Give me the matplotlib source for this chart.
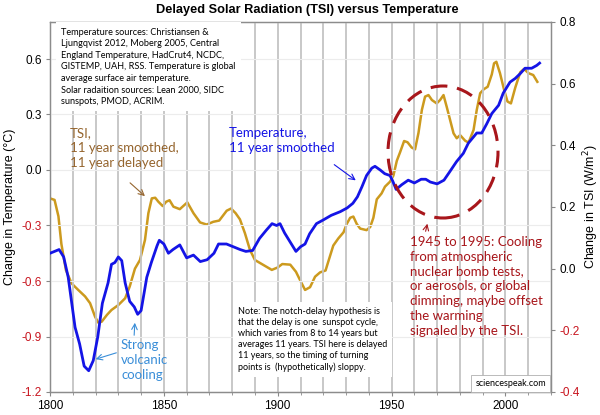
import matplotlib
matplotlib.use("Agg")
import matplotlib.pyplot as plt
from matplotlib.patches import Ellipse

# temperature anomaly, 11 year smoothed (left axis, degC)
temp_years = [1800, 1802, 1804, 1806, 1808, 1811, 1813, 1815, 1817, 1819,
              1821, 1823, 1825.5, 1827, 1828.5, 1830, 1831.5, 1833, 1835, 1837,
              1838.5, 1840, 1842.5, 1844.5, 1847, 1848, 1850, 1852, 1854, 1857,
              1860, 1863, 1866, 1869, 1872, 1874, 1877.5, 1880.5, 1883.5, 1886,
              1889, 1892, 1895, 1897.5, 1899.5, 1901, 1903, 1905.5, 1908, 1910,
              1912, 1914, 1917, 1920, 1923.5, 1927.5, 1930.5, 1933, 1935, 1937,
              1939, 1941.3, 1942.7, 1945, 1947, 1949.3, 1950.5, 1952, 1954.4, 1957.3,
              1960, 1963, 1965, 1967, 1970, 1973, 1975.5, 1978.5, 1981.5, 1983.7,
              1987.4, 1989.6, 1991.8, 1994, 1997, 1999, 2002, 2004.3, 2006.4, 2008.6,
              2011.5, 2013.7, 2015]
temp_vals = [-0.45, -0.44, -0.43, -0.47, -0.58, -0.85, -0.94, -1.06, -1.085, -1.03,
             -0.90, -0.72, -0.61, -0.51, -0.50, -0.47, -0.49, -0.61, -0.71, -0.74,
             -0.78, -0.76, -0.58, -0.50, -0.41, -0.38, -0.40, -0.45, -0.43, -0.405,
             -0.475, -0.46, -0.495, -0.485, -0.45, -0.40, -0.40, -0.415, -0.43, -0.44,
             -0.435, -0.37, -0.325, -0.29, -0.30, -0.29, -0.34, -0.39, -0.44, -0.415,
             -0.40, -0.345, -0.29, -0.27, -0.245, -0.225, -0.205, -0.18, -0.145, -0.09,
             -0.03, 0.01, 0.02, 0.0, -0.02, -0.03, -0.06, -0.105, -0.08, -0.055,
             -0.07, -0.05, -0.05, -0.065, -0.075, -0.055, -0.01, 0.045, 0.09, 0.145,
             0.20, 0.20, 0.25, 0.305, 0.35, 0.415, 0.475, 0.495, 0.52, 0.55,
             0.55, 0.565, 0.578]

# TSI, 11 year smoothed and 11 year delayed (right axis, W/m2)
tsi_years = [1800, 1802, 1803.7, 1805, 1807, 1809.5, 1812.4, 1815.4, 1817.6, 1819.8,
             1821.2, 1822.7, 1825, 1827, 1830, 1833, 1835, 1837.3, 1839.5, 1841.7,
             1843.2, 1844.7, 1846.2, 1847.6, 1849.5, 1851, 1852.5, 1854.2, 1857, 1860.3,
             1863, 1865.9, 1868.8, 1871.7, 1874.3, 1877.6, 1879.5, 1881.5, 1883.4, 1885.6,
             1887.8, 1890, 1893.7, 1897.4, 1900, 1902, 1905.5, 1908, 1909.8, 1912,
             1914.2, 1916.4, 1918.6, 1921, 1922.5, 1924.4, 1926.6, 1928.9, 1930.3, 1931.8,
             1933.2, 1934.7, 1936.2, 1939, 1940.6, 1942, 1943.5, 1945.6, 1947.1, 1949.3,
             1950.8, 1952.3, 1953.7, 1955.5, 1957, 1958.8, 1960.3, 1961.8, 1963.3, 1964.7,
             1966.2, 1967.7, 1969.8, 1971.3, 1972.8, 1974.2, 1975.7, 1977.2, 1978.6, 1980.1,
             1982.3, 1983.8, 1986, 1987.4, 1988.9, 1990.5, 1992.2, 1994, 1995, 1996,
             1997.6, 1999.4, 2000.9, 2002.4, 2004.3, 2006.5, 2008.2, 2010.1, 2012.2, 2014]
tsi_vals = [0.228, 0.223, 0.17, 0.08, -0.005, -0.048, -0.069, -0.09, -0.112, -0.156,
            -0.175, -0.172, -0.15, -0.134, -0.118, -0.096, -0.058, 0.0, 0.028, 0.093,
            0.18, 0.228, 0.23, 0.217, 0.203, 0.217, 0.222, 0.201, 0.193, 0.215,
            0.18, 0.15, 0.143, 0.152, 0.156, 0.188, 0.195, 0.18, 0.16, 0.115,
            0.061, 0.028, 0.012, -0.004, 0.004, 0.015, 0.013, -0.01, -0.037, -0.069,
            -0.06, -0.026, -0.012, -0.006, 0.03, 0.075, 0.098, 0.118, 0.145, 0.165,
            0.169, 0.145, 0.13, 0.125, 0.135, 0.165, 0.225, 0.244, 0.266, 0.282,
            0.302, 0.35, 0.377, 0.414, 0.41, 0.393, 0.387, 0.44, 0.515, 0.558,
            0.563, 0.547, 0.536, 0.547, 0.563, 0.525, 0.482, 0.439, 0.423, 0.433,
            0.415, 0.409, 0.45, 0.515, 0.569, 0.582, 0.59, 0.63, 0.666, 0.671,
            0.634, 0.58, 0.542, 0.536, 0.587, 0.637, 0.648, 0.634, 0.628, 0.606]

temp_ticks = [-1.2, -0.9, -0.6, -0.3, 0.0, 0.3, 0.6]
tsi_ticks = [-0.4, -0.2, 0.0, 0.2, 0.4, 0.6, 0.8]
year_ticks = [1800, 1850, 1900, 1950, 2000]

BLUE = "#1414E6"
GOLD = "#CC9A1E"
BROWN = "#95652E"
DARKRED = "#A8161B"
LIGHTBLUE = "#3A8ED8"
NEG = "#C8141E"
TXT = "Lato"
AX = "Liberation Sans"
BIG = 9.5

fig = plt.figure(figsize=(6, 4.15), dpi=100)
ax = fig.add_axes([50 / 600, 1 - 392 / 415, 501 / 600, 370 / 415])
ax2 = ax.twinx()

ax.set_xlim(1800, 2020)
ax.set_ylim(-1.2, 0.8)
ax2.set_ylim(-0.4, 0.8)

# grid: grey decade lines, faint horizontal lines
for yr in range(1810, 2020, 10):
    ax.axvline(yr, color="#c4c4c4", lw=1.3, zorder=0)
for t in temp_ticks[1:]:
    ax.axhline(t, color="#ececec", lw=0.8, zorder=0)

ax2.plot(tsi_years, tsi_vals, color=GOLD, lw=1.8, zorder=3)
ax.plot(temp_years, temp_vals, color=BLUE, lw=2.0, zorder=4)
ax.set_zorder(ax2.get_zorder() + 1)
ax.patch.set_visible(False)
ax2.patch.set_facecolor("white")

# ticks and labels
ax.set_xticks(year_ticks)
ax.set_xticks(range(1800, 2021, 10), minor=True)
ax.set_xticklabels([str(y) for y in year_ticks], fontfamily=AX, fontsize=8.5)
ax.set_yticks(temp_ticks)
ax.set_yticklabels([f"{t:.1f}" for t in temp_ticks], fontfamily=AX, fontsize=8.5)
for lab, t in zip(ax.get_yticklabels(), temp_ticks):
    lab.set_color(NEG if t < 0 else "black")
ax2.set_yticks(tsi_ticks)
ax2.set_yticklabels([f"{t:.1f}" for t in tsi_ticks], fontfamily=AX, fontsize=8.5)
for lab, t in zip(ax2.get_yticklabels(), tsi_ticks):
    lab.set_color(NEG if t < 0 else "black")
ax.tick_params(axis="both", which="major", length=3, width=0.8, color="#888888", pad=3)
ax.tick_params(axis="x", which="minor", length=2, color="#888888")
ax2.tick_params(axis="y", length=3, width=0.8, color="#888888", pad=3)
for a in (ax, ax2):
    for s in a.spines.values():
        s.set_color("#8c8c8c")
        s.set_linewidth(0.9)

ax.set_ylabel("Change in Temperature (\u00b0C)", fontfamily=AX, fontsize=9, labelpad=4)
ax2.set_ylabel("Change in TSI (W/m$^2$)", fontfamily=AX, fontsize=9, labelpad=1)
fig.text(0.513, 0.976, "Delayed Solar Radiation (TSI) versus Temperature",
         ha="center", va="center", fontfamily=AX, fontweight="bold", fontsize=9.2)

# annotations (placed in axes fraction)
def fx(px):
    return (px - 50) / 501


def fy(py):
    return (392 - py) / 370


sources = ("Temperature sources: Christiansen &\n"
           "Ljungqvist 2012, Moberg 2005, Central\n"
           "England Temperature, HadCrut4, NCDC,\n"
           "GISTEMP, UAH, RSS. Temperature is global\n"
           "average surface air temperature.\n"
           "Solar radaition sources: Lean 2000, SIDC\n"
           "sunspots, PMOD, ACRIM.")
ax.text(fx(61), fy(28), sources, transform=ax.transAxes, va="top", ha="left",
        fontfamily=TXT, fontsize=6.6, linespacing=1.35, zorder=6,
        bbox=dict(boxstyle="square,pad=0.6", fc="white", ec="none"))

note = ("Note: The notch-delay hypothesis is\n"
        "that the delay is one  sunspot cycle,\n"
        "which varies from 8 to 14 years but\n"
        "averages 11 years. TSI here is delayed\n"
        "11 years, so the timing of turning\n"
        "points is  (hypothetically) sloppy.")
ax.text(fx(238), fy(307), note, transform=ax.transAxes, va="top", ha="left",
        fontfamily=TXT, fontsize=6.5, linespacing=1.3, zorder=6,
        bbox=dict(boxstyle="square,pad=0.5", fc="white", ec="none"))

ax.text(fx(546), fy(388), "sciencespeak.com", transform=ax.transAxes,
        va="bottom", ha="right", fontfamily=TXT, fontsize=6.5, zorder=6,
        bbox=dict(boxstyle="square,pad=0.45", fc="white", ec="#b0b0b0", lw=0.6))

ax.text(fx(70), fy(127), "TSI,\n11 year smoothed,\n11 year delayed", transform=ax.transAxes,
        va="top", ha="left", color=BROWN, fontfamily=TXT, fontsize=BIG, linespacing=1.28, zorder=6)
ax.annotate("", xy=(fx(147), fy(198)), xytext=(fx(128), fy(181)),
            xycoords="axes fraction", textcoords="axes fraction",
            arrowprops=dict(arrowstyle="->", color=BROWN, lw=0.8), zorder=6)

ax.text(fx(229), fy(127), "Temperature,\n11 year smoothed", transform=ax.transAxes,
        va="top", ha="left", color=BLUE, fontfamily=TXT, fontsize=BIG, linespacing=1.28, zorder=6)
ax.annotate("", xy=(fx(358), fy(182)), xytext=(fx(332), fy(163)),
            xycoords="axes fraction", textcoords="axes fraction",
            arrowprops=dict(arrowstyle="->", color=BLUE, lw=0.8), zorder=6)

ax.text(fx(121), fy(339), "Strong\nvolcanic\ncooling", transform=ax.transAxes,
        va="top", ha="left", color=LIGHTBLUE, fontfamily=TXT, fontsize=BIG, linespacing=1.28, zorder=6)
ax.annotate("", xy=(fx(93), fy(360)), xytext=(fx(119), fy(352)),
            xycoords="axes fraction", textcoords="axes fraction",
            arrowprops=dict(arrowstyle="->", color=LIGHTBLUE, lw=0.8), zorder=6)
ax.annotate("", xy=(fx(135), fy(320)), xytext=(fx(134), fy(338)),
            xycoords="axes fraction", textcoords="axes fraction",
            arrowprops=dict(arrowstyle="->", color=LIGHTBLUE, lw=0.8), zorder=6)

ax.text(fx(410), fy(236), "1945 to 1995: Cooling\nfrom atmospheric\nnuclear bomb tests,\n"
        "or aerosols, or global\ndimming, maybe offset\nthe warming\nsignaled by the TSI.",
        transform=ax.transAxes, va="top", ha="left", color=DARKRED, fontfamily=TXT,
        fontsize=BIG, linespacing=1.28, zorder=6)
ax.annotate("", xy=(fx(428), fy(221)), xytext=(fx(425), fy(234)),
            xycoords="axes fraction", textcoords="axes fraction",
            arrowprops=dict(arrowstyle="->", color=DARKRED, lw=0.8), zorder=6)

ax.add_patch(Ellipse((fx(443), fy(152)), 110 / 501, 132 / 370, transform=ax.transAxes,
                     fill=False, ec=DARKRED, lw=2.2, ls=(0, (5.5, 3.2)), zorder=5))

fig.savefig("out.png", dpi=100)
